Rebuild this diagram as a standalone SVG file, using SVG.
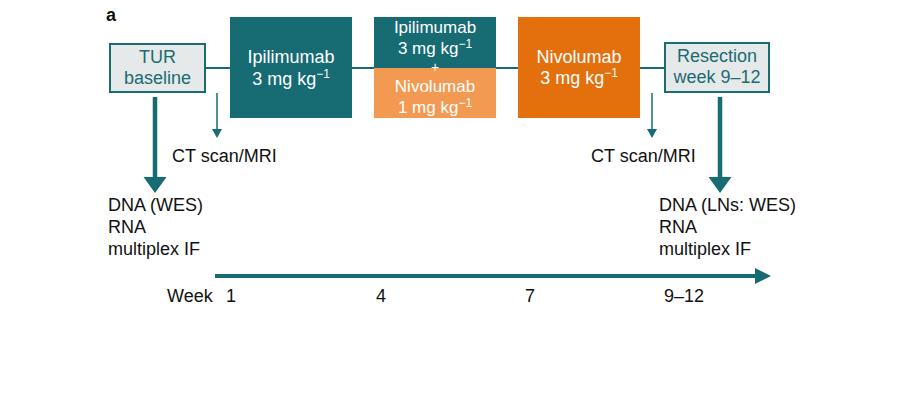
<svg xmlns="http://www.w3.org/2000/svg" width="907" height="397" viewBox="0 0 907 397">
<style>
text{font-family:"Liberation Sans",Arial,sans-serif;font-size:18px}
.w{fill:#ffffff;text-anchor:middle}
.c{font-size:17px}
.t{fill:#1a6b72;text-anchor:middle}
.k{fill:#111111}
.sup{font-size:12px}
.teal{fill:#176b73}
</style>
<defs>
<marker id="big" markerWidth="24" markerHeight="16" refX="0" refY="8" orient="auto" markerUnits="userSpaceOnUse"><path d="M0,0 L16,8 L0,16 Z" fill="#176b73"/></marker>
<marker id="head" markerWidth="24" markerHeight="24" refX="0" refY="11.5" orient="auto" markerUnits="userSpaceOnUse"><path d="M0,0 L16,11.5 L0,23 Z" fill="#176b73"/></marker>
<marker id="small" markerWidth="12" markerHeight="10" refX="0" refY="5" orient="auto" markerUnits="userSpaceOnUse"><path d="M0,0 L9,5 L0,10 Z" fill="#176b73"/></marker>
</defs>
<text x="106" y="21" style="font-weight:bold;font-size:18px" class="k">a</text>
<g id="connectors" stroke="#176b73" fill="none">
<line x1="205" y1="68" x2="665" y2="68" stroke-width="2"/>
<line x1="155" y1="97" x2="155" y2="177" stroke-width="4.5" marker-end="url(#head)"/>
<line x1="720" y1="97" x2="720" y2="177" stroke-width="4.5" marker-end="url(#head)"/>
<line x1="217" y1="93" x2="217" y2="129" stroke-width="1.5" marker-end="url(#small)"/>
<line x1="652" y1="93" x2="652" y2="129" stroke-width="1.5" marker-end="url(#small)"/>
<line x1="215" y1="276" x2="755" y2="276" stroke-width="4" marker-end="url(#big)"/>
</g>
<g id="tur">
<rect x="110" y="44" width="95" height="48" fill="#e6e9ea" stroke="#1a6b72" stroke-width="2"/>
<text x="157.5" y="63" class="t">TUR</text>
<text x="157.5" y="84" class="t">baseline</text>
</g>
<g id="ipi">
<rect x="230" y="17" width="122" height="101" class="teal"/>
<text x="291" y="63" class="w">Ipilimumab</text>
<text x="291" y="85" class="w">3 mg kg<tspan class="sup" dy="-7">−1</tspan></text>
</g>
<g id="combo">
<rect x="374" y="17" width="122" height="51" class="teal"/>
<rect x="374" y="68" width="122" height="50" fill="#f29a52"/>
<text x="435" y="33" class="w c">Ipilimumab</text>
<text x="435" y="54" class="w c">3 mg kg<tspan class="sup" dy="-6">−1</tspan></text>
<text x="435" y="72" class="w" style="font-size:14px">+</text>
<text x="435" y="92" class="w c">Nivolumab</text>
<text x="435" y="113" class="w c">1 mg kg<tspan class="sup" dy="-6">−1</tspan></text>
</g>
<g id="nivo">
<rect x="518" y="17" width="122" height="101" fill="#e4700d"/>
<text x="579" y="63" class="w">Nivolumab</text>
<text x="579" y="84" class="w">3 mg kg<tspan class="sup" dy="-7">−1</tspan></text>
</g>
<g id="resection">
<rect x="665" y="43" width="104" height="49" fill="#e6e9ea" stroke="#1a6b72" stroke-width="2"/>
<text x="717" y="62" class="t">Resection</text>
<text x="717" y="83" class="t">week 9–12</text>
</g>
<g id="ct1"><text x="172" y="162" class="k">CT scan/MRI</text></g>
<g id="ct2"><text x="591" y="162" class="k">CT scan/MRI</text></g>
<g id="samples1">
<text x="108" y="211" class="k">DNA (WES)</text>
<text x="108" y="233" class="k">RNA</text>
<text x="108" y="255" class="k">multiplex IF</text>
</g>
<g id="samples2">
<text x="659" y="211" class="k">DNA (LNs: WES)</text>
<text x="659" y="233" class="k">RNA</text>
<text x="659" y="255" class="k">multiplex IF</text>
</g>
<g id="weeks">
<text x="167" y="302" class="k">Week</text>
<text x="226" y="302" class="k">1</text>
<text x="376" y="302" class="k">4</text>
<text x="525" y="302" class="k">7</text>
<text x="664" y="302" class="k">9–12</text>
</g>
</svg>
